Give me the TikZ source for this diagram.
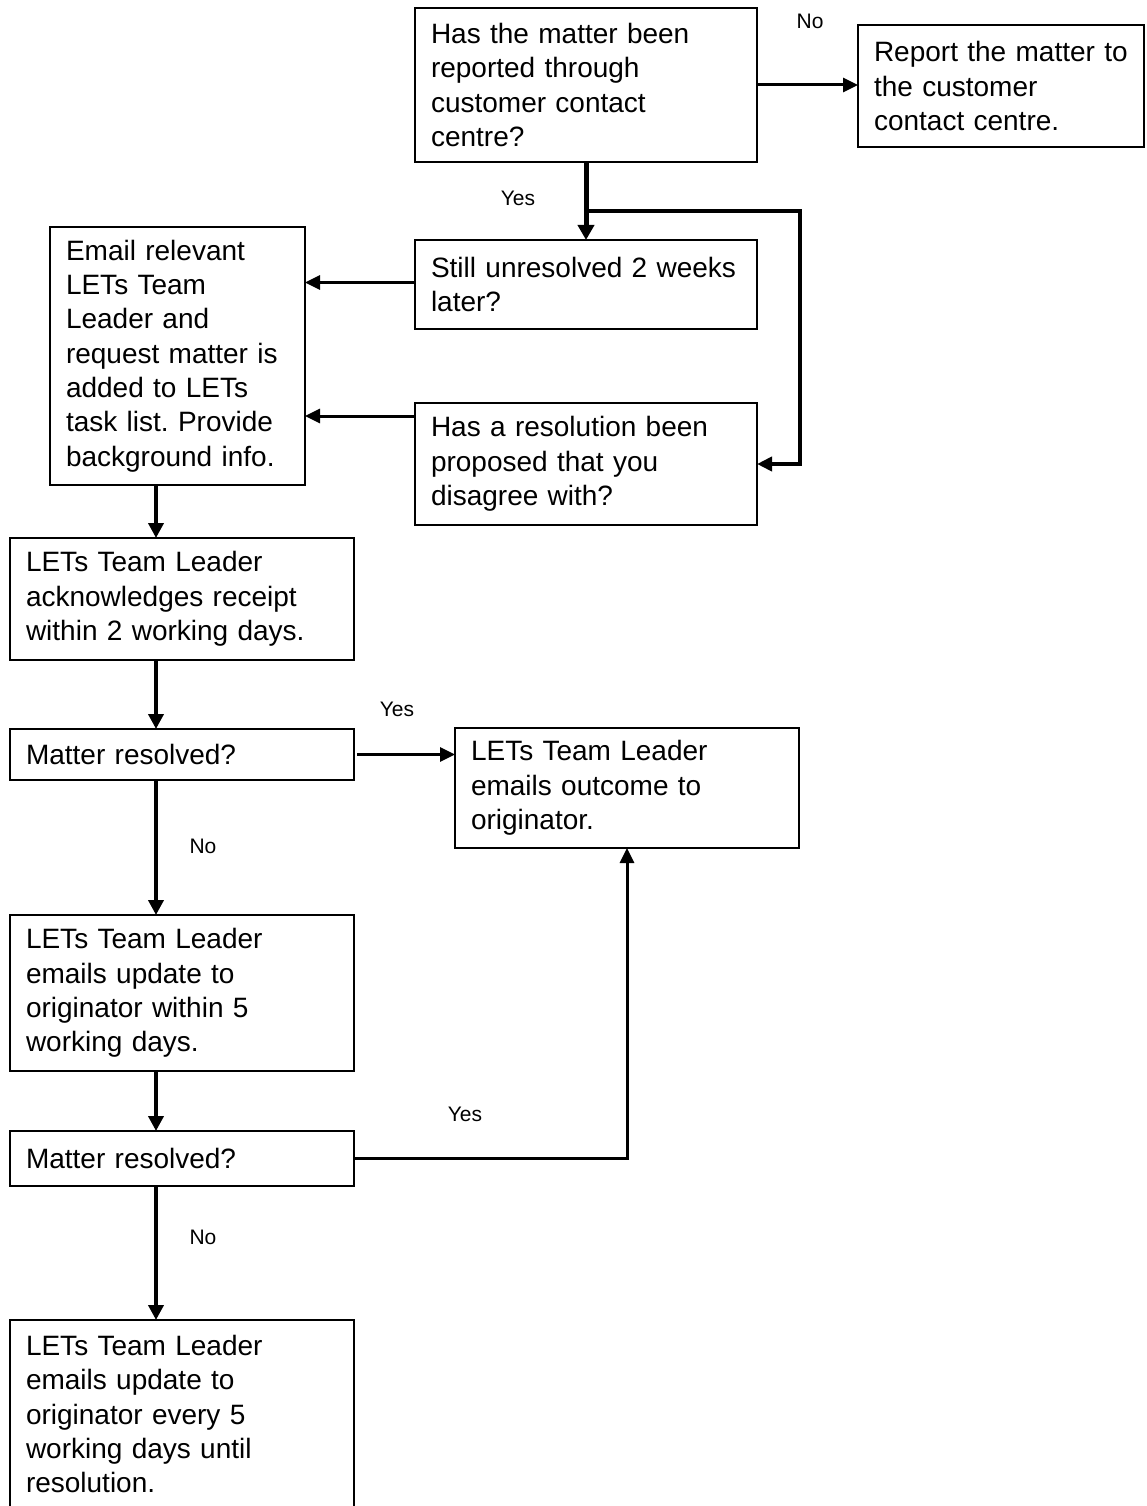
\documentclass[tikz,border=0pt]{standalone}
\usepackage{fontspec}
\setmainfont{Liberation Sans}
\usetikzlibrary{arrows.meta}
\frenchspacing
\begin{document}
\begin{tikzpicture}[x=1pt,y=-1pt,
  fbox/.style={draw, line width=2pt, anchor=north west, outer sep=0pt,
    inner xsep=16pt, inner ysep=0pt, align=left,
    font=\fontsize{28}{34.3}\selectfont},
  lbl/.style={font=\fontsize{21}{24}\selectfont, inner sep=0pt},
  arr/.style={line width=3pt, -{Triangle[length=15pt,width=14pt]}},
  varr/.style={line width=4pt, -{Triangle[length=15pt,width=15pt]}},
  plain/.style={line width=3pt}
]
\useasboundingbox (0,0) rectangle (1146,1506);
\fill[white] (0,0) rectangle (1146,1506);

\node[fbox, minimum width=342pt, minimum height=154pt, text width=310pt] (Q1) at (415,8)
  {Has the matter been\\reported through\\customer contact\\centre?};
\node[fbox, minimum width=286pt, minimum height=122pt, text width=254pt] (R) at (858,25)
  {Report the matter to\\the customer\\contact centre.};
\node[fbox, minimum width=342pt, minimum height=89pt, text width=310pt] (Q2) at (415,240)
  {Still unresolved 2 weeks\\later?};
\node[fbox, minimum width=342pt, minimum height=122pt, text width=310pt] (Q3) at (415,403)
  {Has a resolution been\\proposed that you\\disagree with?};
\node[fbox, minimum width=255pt, minimum height=258pt, text width=223pt] (E) at (50,227)
  {Email relevant\\LETs Team\\Leader and\\request matter is\\added to LETs\\task list. Provide\\background info.};
\node[fbox, minimum width=344pt, minimum height=122pt, text width=312pt] (A) at (10,538)
  {LETs Team Leader\\acknowledges receipt\\within 2 working days.};
\node[fbox, minimum width=344pt, minimum height=51pt, text width=312pt] (M1) at (10,729)
  {Matter resolved?};
\node[fbox, minimum width=344pt, minimum height=120pt, text width=312pt] (O) at (455,728)
  {LETs Team Leader\\emails outcome to\\originator.};
\node[fbox, minimum width=344pt, minimum height=156pt, text width=312pt] (U) at (10,915)
  {LETs Team Leader\\emails update to\\originator within 5\\working days.};
\node[fbox, minimum width=344pt, minimum height=55pt, text width=312pt] (M2) at (10,1131)
  {Matter resolved?};
\node[fbox, minimum width=344pt, minimum height=188pt, text width=312pt] (F) at (10,1320)
  {LETs Team Leader\\emails update to\\originator every 5\\working days until\\resolution.};

\coordinate (v) at (156,0);
\coordinate (br) at (586,211);
\coordinate (brR) at (800,211);

% connectors
\draw[arr] (Q1.east) -- (Q1.east -| R.west);
\draw[line width=5pt, -{Triangle[length=15pt,width=16pt]}] (Q1.south) -- (Q2.north);
\draw[line width=4pt, -{Triangle[length=15pt,width=14pt]}] (br) -- (brR) |- (Q3.east);
\draw[arr] ([yshift=2pt]Q2.west) -- ([yshift=2pt]Q2.west -| E.east);
\draw[arr] ([yshift=-13pt]Q3.north west) -- ([yshift=-13pt]Q3.north west -| E.east);
\draw[varr] (E.south -| v) -- (A.north -| v);
\draw[varr] (A.south -| v) -- (M1.north -| v);
\draw[arr, shorten <=3pt] (M1.east) -- (M1.east -| O.west);
\draw[varr] (M1.south -| v) -- (U.north -| v);
\draw[varr] (U.south -| v) -- (M2.north -| v);
\draw[arr] (M2.east) -| (O.south);
\draw[varr] (M2.south -| v) -- (F.north -| v);

% labels
\node[lbl] (lno1) at (810,21) {No};
\node[lbl] (lyes1) at (518,198) {Yes};
\node[lbl] (lyes2) at (397,709) {Yes};
\node[lbl] (lno2) at (203,846) {No};
\node[lbl] (lyes3) at (465,1114) {Yes};
\node[lbl] (lno3) at (203,1237) {No};
\end{tikzpicture}
\end{document}
